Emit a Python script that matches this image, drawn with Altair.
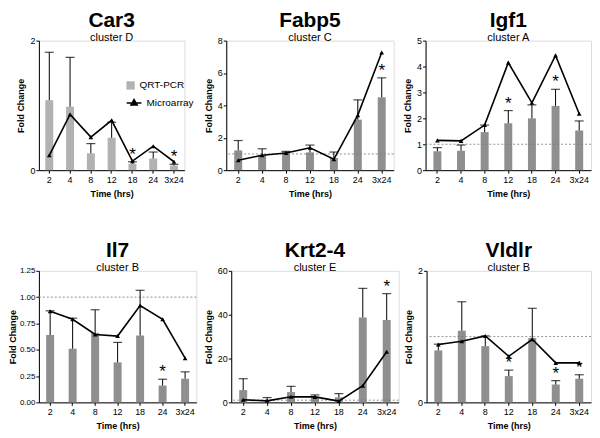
import altair as alt
import pandas as pd

TIMES = ["2", "4", "8", "12", "18", "24", "3x24"]

GENES = ["Car3", "Fabp5", "Igf1", "Il7", "Krt2-4", "Vldlr"]
CLUSTERS = ["cluster D", "cluster C", "cluster A", "cluster B", "cluster E", "cluster B"]

# QRT-PCR bar heights, upper error-bar ends, microarray line values, significance stars
CAR3_QPCR = [1.08, 0.98, 0.26, 0.50, 0.10, 0.18, 0.07]
CAR3_ERR = [1.82, 1.74, 0.41, 0.74, 0.13, 0.28, 0.09]
CAR3_ARRAY = [0.23, 0.86, 0.51, 0.77, 0.14, 0.37, 0.13]
CAR3_STARS = ["18", "3x24"]

FABP5_QPCR = [1.22, 0.95, 1.12, 1.10, 0.75, 3.12, 4.50]
FABP5_ERR = [1.83, 1.32, 1.16, 1.55, 1.12, 4.34, 5.70]
FABP5_ARRAY = [0.61, 0.92, 1.06, 1.38, 0.67, 3.40, 7.27]
FABP5_STARS = ["3x24"]

IGF1_QPCR = [0.73, 0.75, 1.47, 1.81, 2.00, 2.48, 1.53]
IGF1_ERR = [0.87, 0.97, 1.74, 2.30, 2.52, 3.12, 1.90]
IGF1_ARRAY = [1.15, 1.13, 1.74, 4.15, 2.60, 4.43, 2.18]
IGF1_STARS = ["12", "24"]

IL7_QPCR = [0.64, 0.51, 0.66, 0.38, 0.635, 0.16, 0.225]
IL7_ERR = [0.87, 0.80, 0.88, 0.57, 1.065, 0.22, 0.29]
IL7_ARRAY = [0.866, 0.79, 0.645, 0.63, 0.92, 0.79, 0.42]
IL7_STARS = ["24"]

KRT_QPCR = [5.6, 0.4, 4.7, 2.6, 2.3, 38.7, 37.6]
KRT_ERR = [10.8, 2.2, 7.3, 3.4, 4.0, 52.0, 49.6]
KRT_ARRAY = [1.2, 0.7, 2.6, 2.5, 0.6, 7.6, 23.1]
KRT_STARS = ["3x24"]

VLDLR_QPCR = [0.79, 1.09, 0.855, 0.40, 0.98, 0.27, 0.36]
VLDLR_ERR = [0.885, 1.53, 1.01, 0.49, 1.43, 0.33, 0.42]
VLDLR_ARRAY = [0.88, 0.93, 1.01, 0.70, 0.96, 0.60, 0.60]
VLDLR_STARS = ["12", "24", "3x24"]

Y_MAX = [2, 8, 5, 1.25, 60, 2]
Y_TICKS = [[0, 1, 2], [0, 2, 4, 6, 8], [0, 1, 2, 3, 4, 5],
           [0, 0.25, 0.5, 0.75, 1.0, 1.25], [0, 20, 40, 60], [0, 1, 2]]
Y_FORMAT = ["d", "d", "d", ".2f", "d", "d"]

SERIES = ["QRT-PCR", "Microarray"]

QPCR = [CAR3_QPCR, FABP5_QPCR, IGF1_QPCR, IL7_QPCR, KRT_QPCR, VLDLR_QPCR]
ERR = [CAR3_ERR, FABP5_ERR, IGF1_ERR, IL7_ERR, KRT_ERR, VLDLR_ERR]
ARRAY = [CAR3_ARRAY, FABP5_ARRAY, IGF1_ARRAY, IL7_ARRAY, KRT_ARRAY, VLDLR_ARRAY]
STARS = [CAR3_STARS, FABP5_STARS, IGF1_STARS, IL7_STARS, KRT_STARS, VLDLR_STARS]

FONT = "Liberation Sans"
WIDTHS = [146, 168, 166, 158, 168, 165]
HEIGHTS = [130, 130, 130, 132, 132, 132]
Y_EXTENT = [10, 10, 10, 20, 15, 10]
Y_TITLE_PAD = [3, 3, 3, 1, 3, 3]
Y_LABEL_SIZE = [9, 9, 9, 8, 9, 9]


def panel(i):
    df = pd.DataFrame({"time": TIMES, "qpcr": QPCR[i], "err": ERR[i], "array": ARRAY[i]})
    df["star"] = df["time"].isin(STARS[i])
    df["s1"] = SERIES[0]
    df["s2"] = SERIES[1]
    df["ref"] = 1.0
    bar_color = "#b2b2b2" if i == 0 else "#8f8f8f"

    x = alt.X("time:N", sort=TIMES, title="Time (hrs)",
              scale=alt.Scale(paddingInner=0.5, paddingOuter=0.25),
              axis=alt.Axis(labelAngle=0, tickSize=3, labelPadding=2, titlePadding=5,
                            domainColor="black", tickColor="black", labelColor="black",
                            titleColor="black", labelFontSize=9, titleFontSize=9,
                            titleFontWeight="bold"))
    yscale = alt.Scale(domain=[0, Y_MAX[i]], nice=False, zero=True)
    yaxis = alt.Axis(values=Y_TICKS[i], format=Y_FORMAT[i], grid=False, tickSize=3,
                     labelPadding=1, titlePadding=Y_TITLE_PAD[i],
                     minExtent=Y_EXTENT[i], maxExtent=Y_EXTENT[i],
                     titleX=-(Y_EXTENT[i] + Y_TITLE_PAD[i]), titleY=HEIGHTS[i] / 2,
                     titleAngle=270, titleAlign="center", titleBaseline="bottom",
                     domainColor="black", tickColor="black", labelColor="black",
                     titleColor="black", labelFontSize=Y_LABEL_SIZE[i], titleFontSize=9,
                     titleFontWeight="bold")

    def Y(field):
        return alt.Y(field, scale=yscale, title="Fold Change", axis=yaxis)

    base = alt.Chart(df)
    layers = []

    bar_enc = dict(x=x, y=Y("qpcr:Q"))
    if i == 0:
        bar_enc["fill"] = alt.Fill(
            "s1:N", scale=alt.Scale(domain=[SERIES[0]], range=[bar_color]),
            legend=alt.Legend(title=None, orient="none", legendX=87, legendY=40,
                              symbolType="square", symbolSize=70, labelFontSize=10,
                              labelFont=FONT, labelColor="black"))
        bars = base.mark_bar(size=8).encode(**bar_enc)
    else:
        bars = base.mark_bar(size=8, color=bar_color).encode(**bar_enc)
    layers.append(bars)

    if i != 0:
        ref = base.transform_filter("datum.time == '2'").mark_rule(
            color="#777777", strokeDash=[2, 2], strokeWidth=0.8
        ).encode(y=Y("ref:Q"))
        layers.append(ref)

    err = base.mark_rule(color="black", strokeWidth=1).encode(
        x=x, y=Y("qpcr:Q"), y2="err:Q")
    cap = base.mark_tick(color="black", orient="horizontal", size=9, thickness=1.2).encode(
        x=x, y=Y("err:Q"))
    line = base.mark_line(color="black", strokeWidth=1.6).encode(x=x, y=Y("array:Q"))
    pt_enc = dict(x=x, y=Y("array:Q"))
    if i == 0:
        pt_enc["color"] = alt.Color(
            "s2:N", scale=alt.Scale(domain=[SERIES[1]], range=["black"]),
            legend=alt.Legend(title=None, orient="none", legendX=87, legendY=54,
                              symbolType="M-1,0H1M0,-0.45L0.42,0.3H-0.42Z",
                              symbolSize=220, symbolStrokeColor="black",
                              symbolStrokeWidth=1.5, labelFontSize=10,
                              labelFont=FONT, labelColor="black"))
        pts = base.mark_point(shape="triangle-up", filled=True, size=22, opacity=1).encode(**pt_enc)
    else:
        pts = base.mark_point(shape="triangle-up", filled=True, size=22, color="black",
                              opacity=1).encode(**pt_enc)
    stars = base.transform_filter("datum.star").mark_text(
        text="*", fontSize=17, font=FONT, color="black", dy=2, baseline="bottom"
    ).encode(x=x, y=Y("err:Q"))

    layers += [err, cap, line, pts, stars]
    return alt.layer(*layers).properties(
        width=WIDTHS[i], height=HEIGHTS[i],
        title=alt.Title(GENES[i], subtitle=CLUSTERS[i], anchor="middle", frame="group",
                        font=FONT, fontSize=21, fontWeight="bold",
                        color="black", subtitleFont=FONT, subtitleFontSize=11,
                        subtitleColor="black", subtitlePadding=1, offset=-6))


row1 = alt.hconcat(alt.hconcat(panel(0), panel(1), spacing=18), panel(2), spacing=8)
row2 = alt.hconcat(alt.hconcat(panel(3), panel(4), spacing=6), panel(5), spacing=4)
chart = alt.concat(row1, row2, columns=1, align="none", spacing=40).configure_view(
    stroke=None
).configure_axis(
    domainColor="black", domainWidth=2, tickColor="black", tickWidth=1.2,
    labelFont=FONT, labelColor="black", titleFont=FONT, titleColor="black"
).configure(padding=0)

chart.save("out.html", embed_options={"renderer": "svg", "actions": False})
